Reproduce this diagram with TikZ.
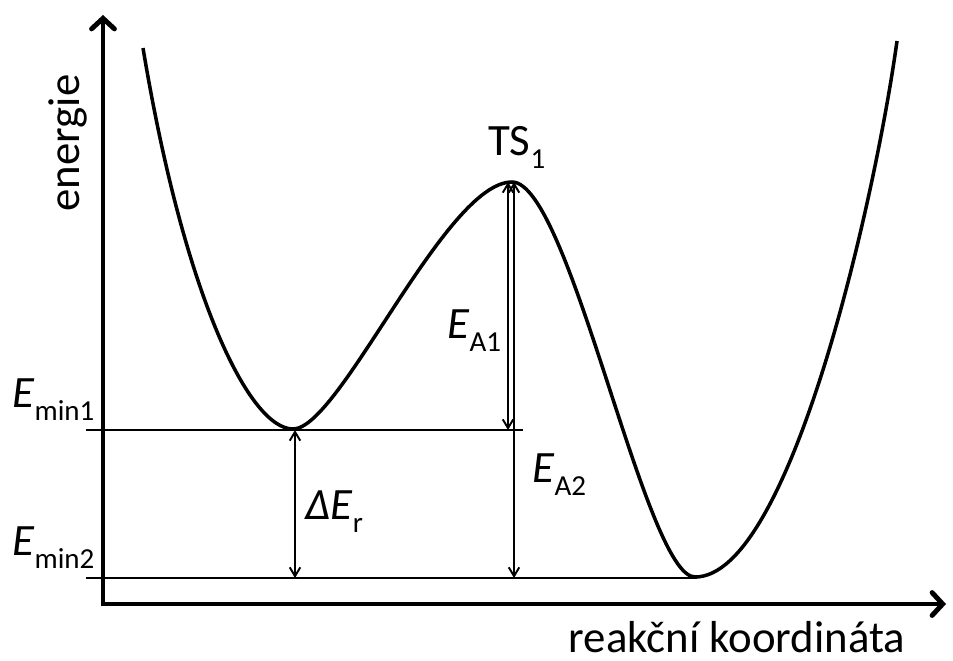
\documentclass[tikz,border=0pt]{standalone}
\usepackage{fontspec}
\setmainfont{Carlito}
\usetikzlibrary{arrows.meta}

\newcommand{\dolni}[1]{\raisebox{-0.3em}{\fontsize{16.5}{18}\selectfont #1}}

\begin{document}
\begin{tikzpicture}[x=0.02cm, y=-0.02cm, font=\fontsize{25.5}{30}\selectfont,
    axis/.style={line width=2.8pt, line join=miter,
        {Straight Barb[length=6pt,width=13pt,line cap=round]}-{Straight Barb[length=6pt,width=13pt,line cap=round]}},
    level/.style={line width=1.1pt},
    dim/.style={line width=1.1pt, {Straight Barb[length=5pt,width=6pt]}-{Straight Barb[length=5pt,width=6pt]}},
    lab/.style={inner sep=0pt, anchor=base west}]
        \useasboundingbox (0,0) rectangle (953,660);

        % axes
        \coordinate (ytop) at (103,15);
        \coordinate (orig) at (103,604);
        \coordinate (xend) at (946,604);
        \draw[axis] (ytop) -- (orig) -- (xend);
        \node[rotate=90] (ylab) at (68,143) {energie};
        \node[inner sep=0pt, anchor=base] (xlab) at (737,652) {reakční koordináta};

        % minima and TS
        \coordinate (start) at (143,48);
        \coordinate (min1) at (293,429);
        \coordinate (ts) at (512,182);
        \coordinate (min2) at (695,577);
        \coordinate (end) at (897,41);

        % potential energy curve
        \draw[line width=2pt] (start) .. controls (185,300) and (250,429) .. (min1)
            .. controls (340,429) and (445,182) .. (ts)
            .. controls (570,182) and (645,577) .. (min2)
            .. controls (790,577) and (875,200) .. (end);

        % levels
        \coordinate (l1) at (86,430);
        \coordinate (r1) at (523,430);
        \coordinate (l2) at (86,578);
        \coordinate (r2) at (697,578);
        \draw[level] (l1) -- (r1);
        \draw[level] (l2) -- (r2);
        \node[lab] (emin1) at (12,407) {\textit{E}\dolni{min1}};
        \node[lab] (emin2) at (12,555) {\textit{E}\dolni{min2}};

        % energy differences
        \coordinate (a1top) at (508,182);
        \coordinate (a1bot) at (508,430);
        \coordinate (a2top) at (514,182);
        \coordinate (a2bot) at (514,578);
        \coordinate (dtop) at (295,430);
        \coordinate (dbot) at (295,578);
        \node[lab] (tslab) at (488,155) {TS\dolni{1}};
        \draw[dim] (a1top) -- (a1bot);
        \draw[dim] (a2top) -- (a2bot);
        \draw[dim] (dtop) -- (dbot);
        \node[lab] (ea1) at (447,338) {\textit{E}\dolni{A1}};
        \node[lab] (ea2) at (532,482) {\textit{E}\dolni{A2}};
        \node[lab] (der) at (305,519) {\textit{ΔE}\dolni{r}};

    \end{tikzpicture}
\end{document}
